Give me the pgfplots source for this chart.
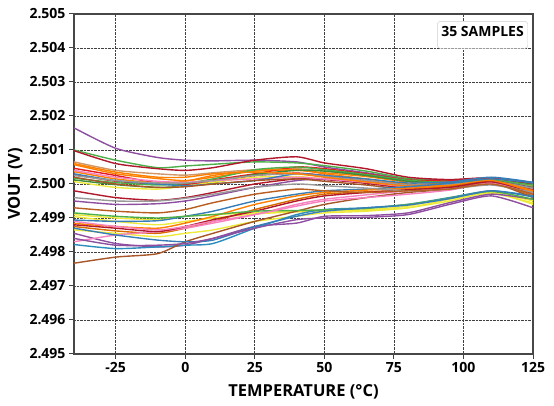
\documentclass[border=0pt]{standalone}
\usepackage{fontspec}
\setmainfont{Open Sans}
\usepackage{pgfplots}
\pgfplotsset{compat=1.18}
\definecolor{sred}{HTML}{E41A1C}
\definecolor{sblue}{HTML}{377EB8}
\definecolor{sgreen}{HTML}{4DAF4A}
\definecolor{spurple}{HTML}{8E4FA0}
\definecolor{sorange}{HTML}{FF7F00}
\definecolor{syellow}{HTML}{EEEA3C}
\definecolor{sbrown}{HTML}{A65628}
\definecolor{spink}{HTML}{F781BF}
\definecolor{sgray}{HTML}{999999}
\definecolor{sdred}{HTML}{B2182B}
\definecolor{steal}{HTML}{2B8CBE}
\definecolor{stan}{HTML}{D09868}
\begin{document}
\begin{tikzpicture}
\begin{axis}[
  scale only axis, width=459pt, height=340pt,
  xmin=-40, xmax=125, ymin=2.495, ymax=2.505,
  xtick={-25,0,25,50,75,100,125},
  ytick={2.495,2.496,2.497,2.498,2.499,2.500,2.501,2.502,2.503,2.504,2.505},
  scaled y ticks=false,
  yticklabel style={/pgf/number format/.cd, fixed, fixed zerofill, precision=3},
  /pgf/number format/assume math mode=true,
  ticklabel style={font=\fontsize{14}{16}\selectfont\bfseries},
  label style={font=\fontsize{16.5}{19}\selectfont\bfseries},
  xlabel={TEMPERATURE (°C)}, ylabel={VOUT (V)},
  xlabel style={at={(axis description cs:0.5,-0.079)}, anchor=north},
  ylabel style={at={(axis description cs:-0.1046,0.5)}, anchor=south},
  grid=major, grid style={densely dotted, draw=black!75, line width=0.8pt},
  axis line style={draw=black!72, line width=1.3pt},
  tick align=outside, major tick length=5pt, tick style={draw=black!75, line width=1pt},
  xtick pos=bottom, ytick pos=left,
  every axis plot/.append style={line width=1.4pt, smooth, tension=0.4, mark=none},
]
\addplot[spurple] coordinates {(-40,2.50165)(-25,2.50105)(-10,2.50078)(0,2.50070)(10,2.50068)(25,2.50070)(40,2.50065)(50,2.50050)(65,2.50033)(80,2.50015)(95,2.50012)(110,2.50015)(125,2.50000)};
\addplot[sgreen] coordinates {(-40,2.50100)(-25,2.50070)(-10,2.50048)(0,2.50053)(10,2.50058)(25,2.50065)(40,2.50062)(50,2.50054)(65,2.50038)(80,2.50016)(95,2.50009)(110,2.50014)(125,2.50002)};
\addplot[sdred] coordinates {(-40,2.50098)(-25,2.50060)(-10,2.50045)(0,2.50040)(10,2.50048)(25,2.50070)(40,2.50080)(50,2.50062)(65,2.50045)(80,2.50020)(95,2.50013)(110,2.50018)(125,2.49998)};
\addplot[stan] coordinates {(-40,2.50065)(-25,2.50040)(-10,2.50030)(0,2.50026)(10,2.50033)(25,2.50042)(40,2.50045)(50,2.50038)(65,2.50025)(80,2.50010)(95,2.50006)(110,2.50012)(125,2.49994)};
\addplot[sorange] coordinates {(-40,2.50057)(-25,2.50030)(-10,2.50016)(0,2.50010)(10,2.50020)(25,2.50038)(40,2.50040)(50,2.50033)(65,2.50022)(80,2.50006)(95,2.50004)(110,2.50010)(125,2.49988)};
\addplot[sred] coordinates {(-40,2.50046)(-25,2.50025)(-10,2.50003)(0,2.49998)(10,2.50012)(25,2.50030)(40,2.50050)(50,2.50045)(65,2.50030)(80,2.50012)(95,2.50009)(110,2.50016)(125,2.50004)};
\addplot[sorange] coordinates {(-40,2.50036)(-25,2.50015)(-10,2.50003)(0,2.50008)(10,2.50025)(25,2.50040)(40,2.50042)(50,2.50030)(65,2.50015)(80,2.50000)(95,2.50002)(110,2.50009)(125,2.49982)};
\addplot[sred] coordinates {(-40,2.50028)(-25,2.50008)(-10,2.50000)(0,2.50000)(10,2.50005)(25,2.50025)(40,2.50032)(50,2.50025)(65,2.50010)(80,2.49996)(95,2.49998)(110,2.50006)(125,2.49985)};
\addplot[sgreen] coordinates {(-40,2.50017)(-25,2.50004)(-10,2.49997)(0,2.50002)(10,2.50015)(25,2.50042)(40,2.50050)(50,2.50042)(65,2.50028)(80,2.50011)(95,2.50005)(110,2.50011)(125,2.49997)};
\addplot[sgreen!80!black] coordinates {(-40,2.50012)(-25,2.49998)(-10,2.49990)(0,2.49994)(10,2.50004)(25,2.50028)(40,2.50040)(50,2.50038)(65,2.50025)(80,2.50008)(95,2.50003)(110,2.50009)(125,2.49990)};
\addplot[syellow] coordinates {(-40,2.50007)(-25,2.49990)(-10,2.49985)(0,2.49994)(10,2.50005)(25,2.50020)(40,2.50022)(50,2.50015)(65,2.50003)(80,2.49990)(95,2.49992)(110,2.50002)(125,2.49975)};
\addplot[sdred] coordinates {(-40,2.49980)(-25,2.49960)(-10,2.49952)(0,2.49960)(10,2.49975)(25,2.50000)(40,2.50015)(50,2.50013)(65,2.50002)(80,2.49988)(95,2.49991)(110,2.50004)(125,2.49982)};
\addplot[spurple] coordinates {(-40,2.49950)(-25,2.49940)(-10,2.49942)(0,2.49950)(10,2.49965)(25,2.49990)(40,2.50010)(50,2.50015)(65,2.50006)(80,2.49994)(95,2.49996)(110,2.50008)(125,2.49988)};
\addplot[spink] coordinates {(-40,2.50040)(-25,2.50020)(-10,2.50008)(0,2.50005)(10,2.50010)(25,2.50015)(40,2.50020)(50,2.50015)(65,2.50005)(80,2.49992)(95,2.49994)(110,2.50004)(125,2.49980)};
\addplot[sblue] coordinates {(-40,2.50030)(-25,2.50010)(-10,2.50000)(0,2.49995)(10,2.50000)(25,2.50010)(40,2.50030)(50,2.50025)(65,2.50015)(80,2.50003)(95,2.50006)(110,2.50020)(125,2.50005)};
\addplot[sgray] coordinates {(-40,2.50025)(-25,2.50010)(-10,2.50003)(0,2.50003)(10,2.50010)(25,2.50025)(40,2.50030)(50,2.50022)(65,2.50010)(80,2.49997)(95,2.49999)(110,2.50008)(125,2.49987)};
\addplot[sbrown] coordinates {(-40,2.50020)(-25,2.50000)(-10,2.49990)(0,2.49992)(10,2.50000)(25,2.50010)(40,2.50015)(50,2.50008)(65,2.49997)(80,2.49985)(95,2.49992)(110,2.50005)(125,2.49970)};
\addplot[sorange] coordinates {(-40,2.50060)(-25,2.50035)(-10,2.50020)(0,2.50020)(10,2.50030)(25,2.50035)(40,2.50030)(50,2.50020)(65,2.50006)(80,2.49994)(95,2.49996)(110,2.50006)(125,2.49978)};
\addplot[syellow] coordinates {(-40,2.49910)(-25,2.49900)(-10,2.49895)(0,2.49905)(10,2.49910)(25,2.49915)(40,2.49920)(50,2.49922)(65,2.49924)(80,2.49935)(95,2.49960)(110,2.49975)(125,2.49950)};
\addplot[syellow] coordinates {(-40,2.49904)(-25,2.49890)(-10,2.49880)(0,2.49890)(10,2.49900)(25,2.49912)(40,2.49918)(50,2.49920)(65,2.49922)(80,2.49930)(95,2.49955)(110,2.49972)(125,2.49944)};
\addplot[sblue] coordinates {(-40,2.49894)(-25,2.49890)(-10,2.49892)(0,2.49905)(10,2.49920)(25,2.49950)(40,2.49970)(50,2.49980)(65,2.49985)(80,2.49992)(95,2.50002)(110,2.50015)(125,2.50003)};
\addplot[sorange] coordinates {(-40,2.49884)(-25,2.49875)(-10,2.49870)(0,2.49885)(10,2.49905)(25,2.49940)(40,2.49965)(50,2.49975)(65,2.49982)(80,2.49987)(95,2.49995)(110,2.50010)(125,2.49980)};
\addplot[sorange!85!black] coordinates {(-40,2.49875)(-25,2.49862)(-10,2.49855)(0,2.49870)(10,2.49890)(25,2.49925)(40,2.49955)(50,2.49970)(65,2.49977)(80,2.49982)(95,2.49992)(110,2.50006)(125,2.49965)};
\addplot[syellow] coordinates {(-40,2.49865)(-25,2.49855)(-10,2.49845)(0,2.49855)(10,2.49865)(25,2.49890)(40,2.49905)(50,2.49915)(65,2.49920)(80,2.49930)(95,2.49950)(110,2.49975)(125,2.49940)};
\addplot[spurple] coordinates {(-40,2.49855)(-25,2.49825)(-10,2.49815)(0,2.49820)(10,2.49840)(25,2.49875)(40,2.49885)(50,2.49905)(65,2.49907)(80,2.49915)(95,2.49945)(110,2.49970)(125,2.49955)};
\addplot[spink] coordinates {(-40,2.49830)(-25,2.49850)(-10,2.49860)(0,2.49870)(10,2.49885)(25,2.49910)(40,2.49940)(50,2.49955)(65,2.49968)(80,2.49980)(95,2.49988)(110,2.50004)(125,2.49970)};
\addplot[steal] coordinates {(-40,2.49822)(-25,2.49810)(-10,2.49815)(0,2.49820)(10,2.49825)(25,2.49870)(40,2.49910)(50,2.49925)(65,2.49930)(80,2.49940)(95,2.49960)(110,2.49980)(125,2.49965)};
\addplot[sbrown] coordinates {(-40,2.49767)(-25,2.49785)(-10,2.49795)(0,2.49830)(10,2.49855)(25,2.49890)(40,2.49920)(50,2.49940)(65,2.49960)(80,2.49975)(95,2.49985)(110,2.50003)(125,2.49960)};
\addplot[sdred] coordinates {(-40,2.49880)(-25,2.49870)(-10,2.49860)(0,2.49875)(10,2.49895)(25,2.49920)(40,2.49950)(50,2.49965)(65,2.49975)(80,2.49983)(95,2.49990)(110,2.50006)(125,2.49972)};
\addplot[sgreen] coordinates {(-40,2.49915)(-25,2.49905)(-10,2.49900)(0,2.49905)(10,2.49910)(25,2.49920)(40,2.49922)(50,2.49924)(65,2.49928)(80,2.49940)(95,2.49958)(110,2.49978)(125,2.49955)};
\addplot[spink] coordinates {(-40,2.49890)(-25,2.49875)(-10,2.49865)(0,2.49875)(10,2.49890)(25,2.49910)(40,2.49935)(50,2.49950)(65,2.49960)(80,2.49970)(95,2.49982)(110,2.50002)(125,2.49970)};
\addplot[sblue] coordinates {(-40,2.49870)(-25,2.49850)(-10,2.49835)(0,2.49830)(10,2.49835)(25,2.49875)(40,2.49905)(50,2.49920)(65,2.49930)(80,2.49938)(95,2.49957)(110,2.49980)(125,2.49962)};
\addplot[sgray] coordinates {(-40,2.49960)(-25,2.49950)(-10,2.49950)(0,2.49958)(10,2.49970)(25,2.49990)(40,2.50000)(50,2.49995)(65,2.49988)(80,2.49980)(95,2.49985)(110,2.49997)(125,2.49975)};
\addplot[sbrown!80!sorange] coordinates {(-40,2.49930)(-25,2.49920)(-10,2.49915)(0,2.49925)(10,2.49945)(25,2.49970)(40,2.49985)(50,2.49980)(65,2.49975)(80,2.49980)(95,2.49985)(110,2.50000)(125,2.49970)};
\addplot[spurple] coordinates {(-40,2.49840)(-25,2.49820)(-10,2.49820)(0,2.49825)(10,2.49840)(25,2.49870)(40,2.49895)(50,2.49900)(65,2.49902)(80,2.49910)(95,2.49940)(110,2.49965)(125,2.49930)};
\node[anchor=north east, draw=black!20, fill=white, rounded corners=3pt,
      font=\fontsize{14}{16}\selectfont\bfseries, inner xsep=4pt, inner ysep=5pt, text depth=7pt]
      at (rel axis cs:0.989,0.979) {35 SAMPLES};
\end{axis}
\pgfresetboundingbox
\path[use as bounding box] (current axis.south west) ++(-74pt,-52pt) rectangle ++(554pt,406pt);
\end{tikzpicture}
\end{document}
